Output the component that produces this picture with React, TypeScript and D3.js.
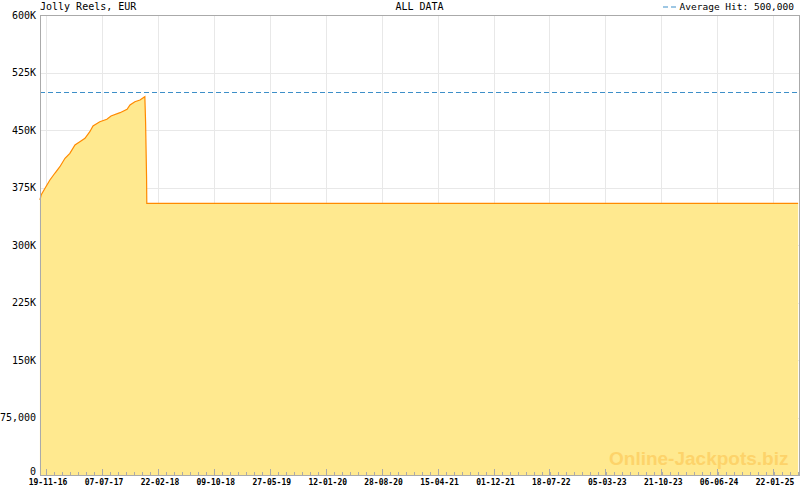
import React from "react";
import * as d3 from "d3";

const TITLE = "Jolly Reels, EUR";
const CENTER_TITLE = "ALL DATA";
const LEGEND_LABEL = "Average Hit: 500,000";
const AVERAGE_HIT = 500000;

const dates = [
  "2016-10-25", "2016-10-30", "2016-11-15", "2016-12-05", "2016-12-26",
  "2017-01-15", "2017-02-05", "2017-02-25", "2017-03-18", "2017-04-07",
  "2017-04-28", "2017-05-18", "2017-05-31", "2017-06-28", "2017-07-27",
  "2017-08-13", "2017-09-19", "2017-10-18", "2017-10-30", "2017-11-19",
  "2017-12-10", "2017-12-30", "2018-01-02", "2018-01-06", "2018-01-07",
  "2025-05-05",
];
const values = [
  358700, 365200, 374000, 384800, 393900,
  402100, 413100, 419600, 430400, 434700,
  439200, 447800, 455200, 460800, 464000,
  468300, 472600, 477000, 482600, 486900,
  489100, 493400, 460800, 389100, 354400,
  354400,
];

const xTickLabels = [
  "19-11-16", "07-07-17", "22-02-18", "09-10-18", "27-05-19", "12-01-20",
  "28-08-20", "15-04-21", "01-12-21", "18-07-22", "05-03-23", "21-10-23",
  "06-06-24", "22-01-25",
];
const yTicks = [0, 75000, 150000, 225000, 300000, 375000, 450000, 525000, 600000];
const yTickLabels = ["0", "75,000", "150K", "225K", "300K", "375K", "450K", "525K", "600K"];

const W = 800;
const H = 490;
const L = 40;
const R = 799;
const T = 15;
const B = 475;

const parseLabel = (s: string) => {
  const [dd, mm, yy] = s.split("-").map(Number);
  return Date.UTC(2000 + yy, mm - 1, dd);
};
const tick0 = parseLabel(xTickLabels[0]);
const tickStep = parseLabel(xTickLabels[1]) - tick0; // 230 days
const PX_PER_TICK = 56;
const msPerPx = tickStep / PX_PER_TICK;
const domainStart = tick0 - (46 - L) * msPerPx;
const domainEnd = tick0 + (R - 46) * msPerPx;

export default function App() {
  const x = d3.scaleUtc().domain([new Date(domainStart), new Date(domainEnd)]).range([L, R]);
  const y = d3.scaleLinear().domain([0, 600000]).range([B, T]);

  const data = dates.map((d, i) => ({ t: new Date(d + "T00:00:00Z"), v: values[i] }));
  const area = d3.area<{ t: Date; v: number }>()
    .x((d) => x(d.t))
    .y0(y(0))
    .y1((d) => y(d.v));
  const line = d3.line<{ t: Date; v: number }>()
    .x((d) => x(d.t))
    .y((d) => y(d.v));

  const majorTicks = xTickLabels.map((s) => new Date(parseLabel(s)));
  const minorTicks: number[] = [];
  for (let t = tick0; t <= domainEnd; t += tickStep / 7) minorTicks.push(t);

  const mono = "'DejaVu Sans Mono', monospace";

  return (
    <svg width={W} height={H} style={{ position: "absolute", left: 0, top: 0, background: "#fff" }}>
      <rect x={0} y={0} width={W} height={H} fill="#fff" />
      {/* grid */}
      <g shapeRendering="crispEdges">
        {yTicks.map((v, i) => (
          <line key={"gy" + i} x1={L} x2={R} y1={Math.round(y(v)) + 0.5} y2={Math.round(y(v)) + 0.5} stroke="#e8e8e8" />
        ))}
        {majorTicks.map((d, i) => (
          <line key={"gx" + i} x1={Math.round(x(d)) + 0.5} x2={Math.round(x(d)) + 0.5} y1={T} y2={B} stroke="#e8e8e8" />
        ))}
      </g>
      {/* area */}
      <path d={area(data) || ""} fill="#ffe98f" />
      <path d={line(data) || ""} fill="none" stroke="#ff8a00" strokeWidth={1.2} />
      {/* average line */}
      <line x1={L} x2={R} y1={Math.round(y(AVERAGE_HIT)) + 0.5} y2={Math.round(y(AVERAGE_HIT)) + 0.5}
        stroke="#3d8fc8" strokeDasharray="5,3" shapeRendering="crispEdges" />
      {/* watermark */}
      <text x={609} y={465} fontFamily="'Liberation Sans', Arial, sans-serif" fontWeight="bold" fontSize={19} fill="#fdd36a">
        Online-Jackpots.biz
      </text>
      {/* frame */}
      <g shapeRendering="crispEdges" stroke="#aaaaaa">
        <line x1={L + 0.5} x2={L + 0.5} y1={T} y2={B + 1} />
        <line x1={L} x2={R + 1} y1={T + 0.5} y2={T + 0.5} />
        <line x1={R + 0.5} x2={R + 0.5} y1={T} y2={B + 1} />
        <line x1={L} x2={R + 1} y1={B + 0.5} y2={B + 0.5} />
        {minorTicks.map((t, i) => (
          <line key={"mt" + i} x1={Math.round(x(new Date(t))) + 0.5} x2={Math.round(x(new Date(t))) + 0.5} y1={B - 3} y2={B} />
        ))}
        {majorTicks.map((d, i) => (
          <line key={"Mt" + i} x1={Math.round(x(d)) + 0.5} x2={Math.round(x(d)) + 0.5} y1={B - 6} y2={B} />
        ))}
      </g>
      {/* y labels */}
      {yTicks.map((v, i) => (
        <text key={"yl" + i} x={36} y={Math.min(y(v) + 3.5, B - 0.5)} textAnchor="end" fontFamily={mono} fontSize={10} fill="#000">
          {yTickLabels[i]}
        </text>
      ))}
      {/* x labels */}
      {majorTicks.map((d, i) => (
        <text key={"xl" + i} x={x(d) + 2} y={485} textAnchor="middle" fontFamily={mono} fontWeight="bold" fontSize={8} fill="#000">
          {xTickLabels[i]}
        </text>
      ))}
      {/* titles */}
      <text x={L} y={10} fontFamily={mono} fontSize={10} fill="#000">{TITLE}</text>
      <text x={(L + R) / 2} y={10} textAnchor="middle" fontFamily={mono} fontSize={10} fill="#000">{CENTER_TITLE}</text>
      <line x1={663} x2={677} y1={7} y2={7} stroke="#3d8fc8" strokeDasharray="5,3" />
      <text x={794} y={10} textAnchor="end" fontFamily={mono} fontSize={9.5} fill="#000">{LEGEND_LABEL}</text>
    </svg>
  );
}
